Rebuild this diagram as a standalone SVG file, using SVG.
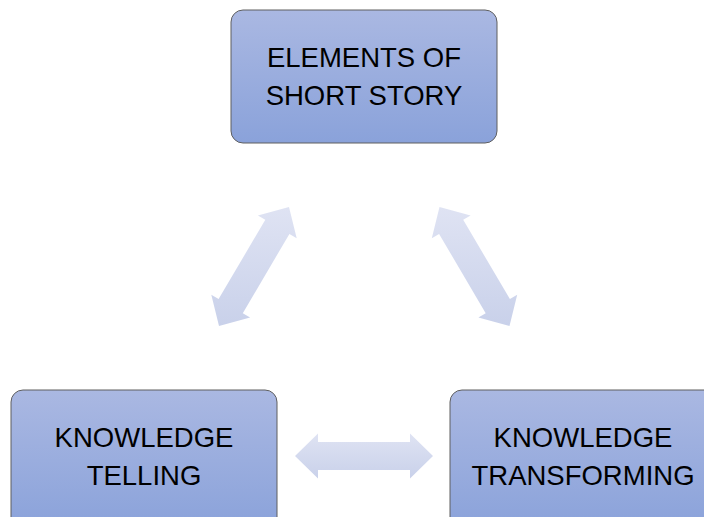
<svg xmlns="http://www.w3.org/2000/svg" width="704" height="517" viewBox="0 0 704 517">
<defs>
<linearGradient id="boxGrad" x1="0" y1="0" x2="0" y2="1">
<stop offset="0" stop-color="#aab8e2"/>
<stop offset="1" stop-color="#8aa2da"/>
</linearGradient>
<linearGradient id="arrowGrad" x1="0" y1="0" x2="0" y2="1">
<stop offset="0" stop-color="#dfe3f3"/>
<stop offset="1" stop-color="#c9d1ea"/>
</linearGradient>
<style>
.box{fill:url(#boxGrad);stroke:#5f5f5f;stroke-width:1}
.lbl{font-family:"Liberation Sans",Arial,sans-serif;font-size:27.5px;fill:#000;text-anchor:middle}
.arr{fill:url(#arrowGrad);stroke:none}
</style>
</defs>
<rect width="704" height="517" fill="#ffffff"/>
<g id="connectors">
<polygon class="arr" points="219.0,326.0 211.3,294.7 218.6,299.1 265.3,219.8 257.9,215.4 289.0,207.0 296.7,238.3 289.4,233.9 242.8,313.3 250.1,317.6"/>
<polygon class="arr" points="509.5,326.0 517.2,294.7 509.9,299.1 463.2,219.8 470.6,215.4 439.5,207.0 431.8,238.3 439.1,233.9 485.7,313.3 478.4,317.6"/>
<polygon class="arr" points="295,456 318,433.5 318,442 410,442 410,433.5 433,456 410,478.5 410,470 318,470 318,478.5"/>
</g>
<g id="node-elements">
<rect class="box" x="231" y="10" width="266" height="133" rx="12" ry="12"/>
<text class="lbl" x="364" y="66.5">ELEMENTS OF</text>
<text class="lbl" x="364" y="105">SHORT STORY</text>
</g>
<g id="node-telling">
<rect class="box" x="11" y="390" width="266" height="140" rx="12" ry="12"/>
<text class="lbl" x="144" y="446.5">KNOWLEDGE</text>
<text class="lbl" x="144" y="485">TELLING</text>
</g>
<g id="node-transforming">
<rect class="box" x="450" y="390" width="266" height="140" rx="12" ry="12"/>
<text class="lbl" x="583" y="446.5">KNOWLEDGE</text>
<text class="lbl" x="583" y="485">TRANSFORMING</text>
</g>
</svg>
